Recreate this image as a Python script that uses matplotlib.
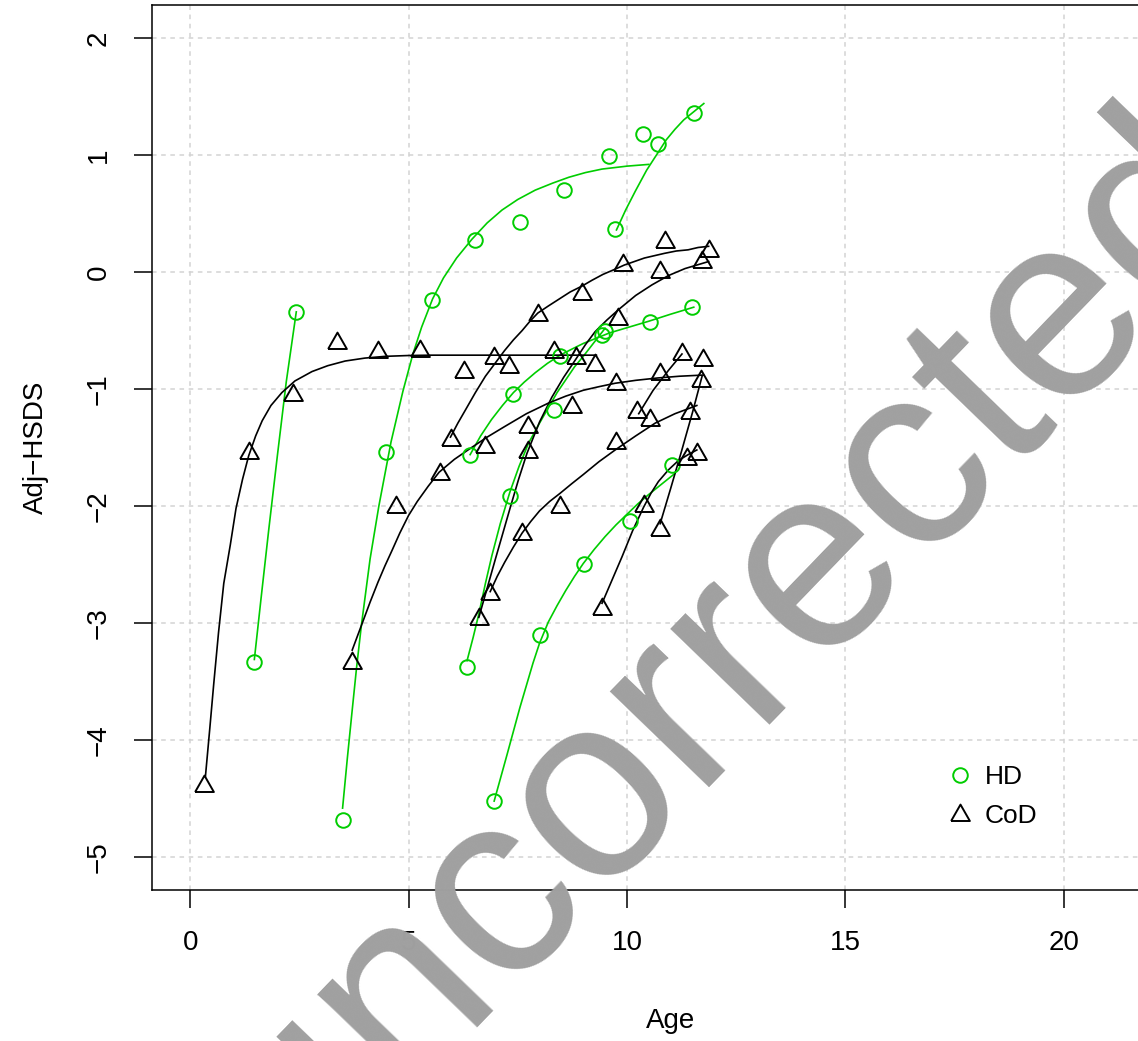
import matplotlib
matplotlib.use('Agg')
import matplotlib.pyplot as plt

plt.rcParams['font.family'] = ['Liberation Sans', 'DejaVu Sans']

GREEN = '#00CD00'

# observed Adj-HSDS, HD group (circles)
hd_age = [1.46, 2.43,
          3.50, 4.49, 5.54, 6.52, 7.55, 8.56, 9.60, 10.36,
          9.73, 10.71, 11.53,
          6.34, 7.33, 8.32, 9.43,
          6.41, 7.40, 8.47, 9.49, 10.53, 11.49,
          6.96, 8.02, 9.01, 10.06, 11.03]
hd_sds = [-3.33, -0.34,
          -4.68, -1.54, -0.24, 0.27, 0.43, 0.70, 0.99, 1.18,
          0.37, 1.09, 1.36,
          -3.37, -1.91, -1.18, -0.54,
          -1.56, -1.04, -0.72, -0.50, -0.43, -0.30,
          -4.52, -3.10, -2.49, -2.13, -1.65]

# observed Adj-HSDS, CoD group (triangles)
cod_age = [0.32, 1.35, 2.36, 3.36, 4.30, 5.26, 6.27, 6.95, 7.29, 8.32, 8.83, 9.27,
           3.71, 4.71, 5.73, 6.76, 8.74, 9.76, 11.70,
           5.97, 7.96, 8.97, 9.92, 10.86, 11.87,
           6.61, 7.73, 7.73, 9.79, 10.76, 11.72,
           6.87, 7.60, 8.47, 9.76, 11.45,
           10.23, 10.76, 11.26, 10.53,
           10.76, 11.75,
           9.43, 10.38, 11.37, 11.60]
cod_sds = [-4.37, -1.53, -1.03, -0.59, -0.67, -0.66, -0.84, -0.72, -0.79, -0.67, -0.72, -0.78,
           -3.32, -1.99, -1.71, -1.48, -1.14, -0.94, -0.91,
           -1.42, -0.35, -0.17, 0.08, 0.27, 0.20,
           -2.95, -1.52, -1.31, -0.38, 0.02, 0.10,
           -2.73, -2.22, -1.99, -1.44, -1.19,
           -1.18, -0.85, -0.68, -1.25,
           -2.19, -0.73,
           -2.86, -1.98, -1.58, -1.54]

# fitted individual curves
hd_fit_x = [
    [1.47, 1.62, 1.80, 2.00, 2.20, 2.43],
    [3.49, 3.60, 3.70, 3.81, 3.92, 4.12, 4.32, 4.60, 4.87, 5.10, 5.30, 5.55, 5.80, 6.10,
     6.45, 6.80, 7.14, 7.50, 7.90, 8.30, 8.67, 9.05, 9.43, 10.00, 10.50],
    [9.76, 9.97, 10.19, 10.45, 10.71, 10.90, 11.10, 11.30, 11.53, 11.76],
    [6.34, 6.48, 6.61, 6.76, 6.91, 7.10, 7.32, 7.53, 7.75, 8.00, 8.20, 8.40, 8.60, 8.80,
     9.00, 9.25, 9.50],
    [6.41, 6.65, 6.90, 7.15, 7.40, 7.65, 7.90, 8.18, 8.47, 8.73, 9.00, 9.30, 9.60, 10.05,
     10.50, 11.00, 11.53],
    [6.96, 7.25, 7.55, 7.85, 8.00, 8.20, 8.40, 8.60, 8.80, 9.00, 9.25, 9.50, 9.75, 10.00,
     10.25, 10.50, 10.80, 11.10],
]
hd_fit_y = [
    [-3.31, -2.80, -2.20, -1.56, -0.94, -0.34],
    [-4.58, -4.15, -3.78, -3.38, -3.02, -2.45, -2.00, -1.45, -1.02, -0.70, -0.47, -0.23, -0.05, 0.12,
     0.28, 0.42, 0.53, 0.62, 0.70, 0.76, 0.81, 0.85, 0.88, 0.905, 0.92],
    [0.36, 0.53, 0.69, 0.87, 1.02, 1.13, 1.22, 1.30, 1.37, 1.44],
    [-3.32, -3.12, -2.92, -2.66, -2.42, -2.15, -1.88, -1.66, -1.46, -1.29, -1.16, -1.03, -0.92, -0.81,
     -0.72, -0.60, -0.48],
    [-1.56, -1.40, -1.26, -1.14, -1.03, -0.94, -0.86, -0.78, -0.71, -0.66, -0.61, -0.565, -0.52, -0.47,
     -0.42, -0.36, -0.30],
    [-4.52, -4.13, -3.72, -3.34, -3.17, -2.99, -2.85, -2.72, -2.60, -2.49, -2.37, -2.26, -2.16, -2.07,
     -1.98, -1.90, -1.81, -1.72],
]
cod_fit_x = [
    [0.35, 0.45, 0.54, 0.65, 0.77, 0.92, 1.05, 1.20, 1.34, 1.50, 1.65, 1.85, 2.10, 2.40,
     2.79, 3.15, 3.55, 4.00, 4.47, 5.00, 5.50, 7.14, 9.30],
    [3.71, 3.94, 4.12, 4.30, 4.46, 4.62, 4.80, 5.00, 5.20, 5.45, 5.70, 6.05, 6.40, 6.80,
     7.20, 7.70, 8.20, 8.60, 9.00, 9.35, 9.73, 10.20, 10.70, 11.20, 11.75],
    [5.96, 6.13, 6.30, 6.53, 6.76, 6.98, 7.20, 7.40, 7.60, 7.78, 7.96, 8.20, 8.45, 8.70,
     8.97, 9.20, 9.45, 9.70, 9.94, 10.17, 10.40, 10.63, 10.86, 11.13, 11.40, 11.63, 11.87],
    [6.61, 6.80, 6.99, 7.16, 7.33, 7.52, 7.71, 8.00, 8.28, 8.55, 8.82, 9.05, 9.27, 9.54,
     9.81, 10.20, 10.57, 10.95, 11.33, 11.60, 11.87],
    [6.87, 7.03, 7.20, 7.40, 7.60, 7.80, 8.00, 8.23, 8.47, 8.73, 9.00, 9.36, 9.73, 10.20,
     10.65, 11.10, 11.60],
    [10.27, 10.60, 10.95, 11.26],
    [10.76, 11.00, 11.25, 11.50, 11.72],
    [9.43, 9.66, 9.89, 10.13, 10.38, 10.55, 10.72, 10.95, 11.18, 11.40, 11.60],
]
cod_fit_y = [
    [-4.31, -3.90, -3.52, -3.08, -2.66, -2.33, -2.02, -1.77, -1.57, -1.40, -1.27, -1.14, -1.03, -0.93,
     -0.85, -0.80, -0.76, -0.735, -0.72, -0.713, -0.71, -0.71, -0.71],
    [-3.23, -3.00, -2.82, -2.65, -2.51, -2.38, -2.23, -2.08, -1.96, -1.83, -1.71, -1.60, -1.51, -1.41,
     -1.32, -1.21, -1.12, -1.06, -1.01, -0.98, -0.95, -0.925, -0.905, -0.89, -0.88],
    [-1.41, -1.29, -1.18, -1.03, -0.89, -0.78, -0.67, -0.58, -0.50, -0.42, -0.35, -0.29, -0.23, -0.17,
     -0.12, -0.07, -0.02, 0.02, 0.06, 0.09, 0.12, 0.14, 0.16, 0.18, 0.19, 0.21, 0.22],
    [-2.95, -2.70, -2.45, -2.23, -2.01, -1.77, -1.55, -1.28, -1.07, -0.90, -0.75, -0.62, -0.51, -0.41,
     -0.32, -0.20, -0.11, -0.03, 0.03, 0.06, 0.09],
    [-2.73, -2.60, -2.48, -2.35, -2.23, -2.13, -2.04, -1.96, -1.89, -1.81, -1.73, -1.62, -1.52, -1.40,
     -1.29, -1.21, -1.14],
    [-1.21, -1.01, -0.84, -0.70],
    [-2.15, -1.85, -1.53, -1.20, -0.89],
    [-2.83, -2.63, -2.43, -2.21, -2.01, -1.89, -1.79, -1.69, -1.61, -1.56, -1.52],
]

x_ticks = [0, 5, 10, 15, 20]
y_ticks = [-5, -4, -3, -2, -1, 0, 1, 2]

tri = [(-1, -0.8), (1, -0.8), (0, 0.95), (-1, -0.8)]

fig = plt.figure(figsize=(11.38, 10.41), dpi=100)
ax = fig.add_axes([0.1333, 0.145, 0.912, 0.850])

for xs, ys in zip(hd_fit_x, hd_fit_y):
    ax.plot(xs, ys, color=GREEN, lw=1.2, zorder=2)
for xs, ys in zip(cod_fit_x, cod_fit_y):
    ax.plot(xs, ys, color='black', lw=1.2, zorder=2)

ax.plot(hd_age, hd_sds, ls='none', marker='o', ms=10.5, mfc='none',
        mec=GREEN, mew=1.4, zorder=3, label='HD')
ax.plot(cod_age, cod_sds, ls='none', marker=tri, ms=13.5, mfc='none',
        mec='black', mew=1.4, zorder=3, label='CoD')

ax.set_xlim(-0.88, 22.88)
ax.set_ylim(-5.28, 2.28)
ax.set_xticks(x_ticks)
ax.set_yticks(y_ticks)
ax.set_xticklabels([str(v) for v in x_ticks])
ax.set_yticklabels([str(v).replace('-', '\u2212') for v in y_ticks],
                   rotation=90, va='center')
ax.tick_params(direction='out', length=13, width=1.1, labelsize=20, pad=16)
ax.grid(True, color='#d3d3d3', ls=(0, (3, 3)), lw=1.1)
ax.set_axisbelow(True)
for s in ax.spines.values():
    s.set_linewidth(1.1)

ax.set_xlabel('Age', fontsize=20, labelpad=37)
ax.set_ylabel('Adj\u2212HSDS', fontsize=20, labelpad=26)

ax.legend(loc='upper left', bbox_to_anchor=(0.832, 0.265), bbox_transform=fig.transFigure,
          frameon=False, fontsize=19, handletextpad=0.45, labelspacing=0.55,
          handlelength=1.0, borderpad=0, borderaxespad=0)

fig.text(0.641, 0.374, 'uncorrected', fontsize=188, color='#a0a0a0',
         rotation=46, ha='center', va='center', rotation_mode='anchor', zorder=10)

fig.savefig('out.png', dpi=100)
